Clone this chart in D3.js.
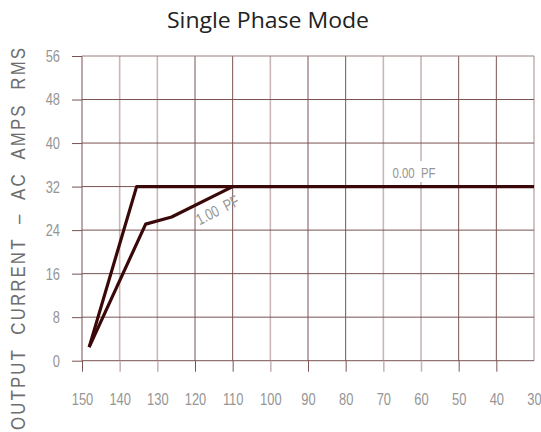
<!DOCTYPE html>
<html><head><meta charset="utf-8">
<script src="https://cdn.jsdelivr.net/npm/d3@7"></script>
<style>
html,body{margin:0;padding:0;background:#fff;}
svg{display:block;}
</style></head>
<body>
<svg id="chart" width="541" height="432"></svg>
<script>
const title = "Single Phase Mode";
const yTitle = "OUTPUT  CURRENT  –  AC  AMPS  RMS";
const xTicks = [150,140,130,120,110,100,90,80,70,60,50,40,30];
const yTicks = [0,8,16,24,32,40,48,56];
const seriesNames = ["0.00  PF","1.00  PF"];
const pf0X = [148.1, 135.5, 30];
const pf0Y = [2.5, 32, 32];
const pf1X = [148.1, 133.1, 126.2, 110];
const pf1Y = [2.5, 25.1, 26.4, 32];

const svg = d3.select("#chart");
const L = 82, R = 534, T = 56, B = 360.7;
const x = d3.scaleLinear().domain([150,30]).range([L,R]);
const y = d3.scaleLinear().domain([0,56]).range([B,T]);

const gridDark = "#7a5252", gridLight = "#c9b6b6";
const lightSet = new Set([140,130,100,70,60,30]);
const tickFont = "'Liberation Sans',Arial,sans-serif";
const sx = 0.76;
const tickColor = "#959595";

// title
svg.append("text").attr("x",268).attr("y",28).attr("text-anchor","middle")
  .attr("font-family","'Open Sans','Noto Sans',sans-serif").attr("font-size",21)
  .attr("fill","#222").attr("textLength",202).attr("lengthAdjust","spacingAndGlyphs").text(title);

// vertical grid
svg.append("g").selectAll("line").data(xTicks).join("line")
  .attr("x1",d=>x(d)).attr("x2",d=>x(d)).attr("y1",T).attr("y2",B)
  .attr("stroke",d=>lightSet.has(d)?gridLight:gridDark)
  .attr("stroke-width",d=>lightSet.has(d)?1.6:1);
// horizontal grid
svg.append("g").selectAll("line").data(yTicks).join("line")
  .attr("x1",L).attr("x2",R).attr("y1",d=>y(d)).attr("y2",d=>y(d))
  .attr("stroke",d=>d===56?"#9a7c7c":gridDark).attr("stroke-width",1);

// x axis ticks + labels
const xa = svg.append("g").attr("transform",`translate(0,${B})`)
  .call(d3.axisBottom(x).tickValues(xTicks).tickSize(11).tickPadding(21).tickFormat(d3.format("d")));
xa.select(".domain").remove();
xa.selectAll(".tick line").attr("stroke",d=>lightSet.has(d)?gridLight:gridDark)
  .attr("stroke-width",d=>lightSet.has(d)?1.6:1)
  .attr("y2",d=>d===30?0:11);
xa.selectAll(".tick text").attr("font-family",tickFont).attr("font-size",17).attr("fill",tickColor)
  .attr("x",0).attr("transform",`scale(${sx},1)`);

// y axis ticks + labels
const ya = svg.append("g").attr("transform",`translate(${L},0)`)
  .call(d3.axisLeft(y).tickValues(yTicks).tickSize(10).tickPadding(12).tickFormat(d3.format("d")));
ya.select(".domain").remove();
ya.selectAll(".tick line").attr("stroke",gridDark);
ya.selectAll(".tick text").attr("font-family",tickFont).attr("font-size",17).attr("fill",tickColor)
  .attr("x",-22/sx).attr("transform",`scale(${sx},1)`);

// y title
const ysx = 0.8;
svg.append("text").attr("transform",`translate(25,239) rotate(-90) scale(${ysx},1)`).attr("text-anchor","middle")
  .style("white-space","pre")
  .attr("font-family",tickFont).attr("font-size",21).attr("fill","#6e6e6e")
  .attr("textLength",382/ysx).attr("lengthAdjust","spacing").text(yTitle);

// label 0.00 PF with white background
const lbl0x = 414, lbl0y = 178;
svg.append("rect").attr("x",lbl0x-21).attr("y",lbl0y-17).attr("width",42).attr("height",21).attr("fill","#fff");
svg.append("text").attr("transform",`translate(${lbl0x},${lbl0y}) scale(${sx},1)`).attr("text-anchor","middle")
  .style("white-space","pre")
  .attr("font-family",tickFont).attr("font-size",15).attr("fill",tickColor).text(seriesNames[0]);

// lines
const line = d3.line().x(d=>x(d[0])).y(d=>y(d[1]));
const s0 = pf0X.map((v,i)=>[v,pf0Y[i]]);
const s1 = pf1X.map((v,i)=>[v,pf1Y[i]]);
svg.append("path").attr("d",line(s1)).attr("fill","none").attr("stroke","#3a0808").attr("stroke-width",3.2).attr("stroke-linejoin","round");
svg.append("path").attr("d",line(s0)).attr("fill","none").attr("stroke","#3a0808").attr("stroke-width",3.2).attr("stroke-linejoin","round");

// label 1.00 PF rotated
svg.append("text").attr("transform",`translate(220,215) rotate(-27) scale(${sx},1)`).attr("text-anchor","middle")
  .style("white-space","pre")
  .attr("font-family",tickFont).attr("font-size",16).attr("fill",tickColor).text(seriesNames[1]);
</script>
</body></html>
